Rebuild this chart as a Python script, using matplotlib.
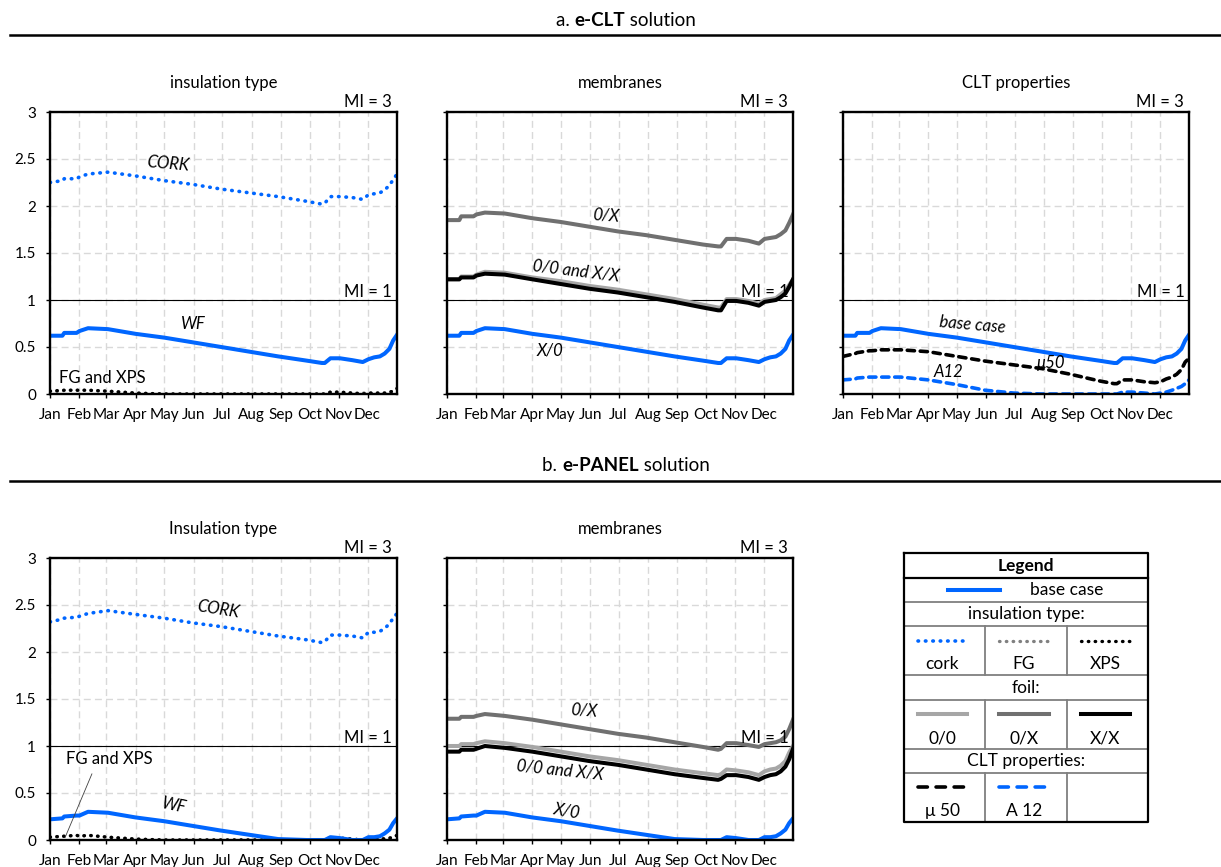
import matplotlib
matplotlib.use('Agg')
import matplotlib.pyplot as plt

plt.rcParams['font.family'] = ['Lato', 'DejaVu Sans']

# ---- data -------------------------------------------------------------
months = ['Jan', 'Feb', 'Mar', 'Apr', 'May', 'Jun', 'Jul', 'Aug', 'Sep', 'Oct', 'Nov', 'Dec']
month_starts = [0, 31, 59, 90, 120, 151, 181, 212, 243, 273, 304, 334]

days = [0, 13, 15, 28, 31, 40, 61, 90, 120, 150, 180, 210, 240, 270,
        286, 289, 295, 305, 318, 329, 335, 341, 347, 352, 357, 361, 365]

# a. e-CLT solution
base_a = [0.62, 0.62, 0.65, 0.65, 0.67, 0.70, 0.69, 0.64, 0.60, 0.55, 0.50, 0.45, 0.40, 0.355,
          0.33, 0.33, 0.38, 0.38, 0.36, 0.34, 0.37, 0.39, 0.40, 0.43, 0.48, 0.57, 0.63]
cork_a = [2.25, 2.27, 2.29, 2.29, 2.31, 2.34, 2.36, 2.32, 2.27, 2.23, 2.18, 2.14, 2.10, 2.05,
          2.02, 2.03, 2.10, 2.10, 2.09, 2.07, 2.12, 2.13, 2.14, 2.17, 2.22, 2.28, 2.34]
fg_a = [0.03, 0.03, 0.04, 0.04, 0.04, 0.04, 0.03, 0.01, 0, 0, 0, 0, 0, 0,
        0, 0, 0.02, 0.02, 0.01, 0.01, 0.01, 0.01, 0.01, 0.01, 0.02, 0.03, 0.05]
xps_a = [0.03, 0.04, 0.04, 0.04, 0.04, 0.04, 0.03, 0.01, 0, 0, 0, 0, 0, 0,
         0, 0, 0.02, 0.02, 0.01, 0.0, 0.01, 0.01, 0.01, 0.01, 0.02, 0.03, 0.06]
ox_a = [1.85, 1.85, 1.89, 1.89, 1.91, 1.93, 1.92, 1.87, 1.83, 1.78, 1.73, 1.69, 1.64, 1.59,
        1.57, 1.57, 1.65, 1.65, 1.63, 1.60, 1.65, 1.66, 1.67, 1.70, 1.74, 1.82, 1.91]
oo_a = [1.22, 1.22, 1.25, 1.25, 1.27, 1.30, 1.29, 1.24, 1.20, 1.15, 1.11, 1.06, 1.01, 0.95,
        0.92, 0.92, 1.01, 1.01, 0.99, 0.96, 1.00, 1.01, 1.02, 1.06, 1.10, 1.16, 1.22]
xx_a = [1.22, 1.22, 1.24, 1.24, 1.26, 1.28, 1.27, 1.22, 1.17, 1.12, 1.08, 1.03, 0.98, 0.92,
        0.89, 0.89, 0.99, 0.99, 0.97, 0.94, 0.98, 0.99, 1.00, 1.03, 1.07, 1.14, 1.22]
mu50_a = [0.40, 0.43, 0.44, 0.46, 0.46, 0.47, 0.47, 0.45, 0.40, 0.35, 0.31, 0.27, 0.21, 0.14,
          0.11, 0.11, 0.15, 0.15, 0.13, 0.12, 0.13, 0.16, 0.18, 0.21, 0.26, 0.34, 0.38]
a12_a = [0.15, 0.16, 0.17, 0.18, 0.18, 0.18, 0.18, 0.15, 0.10, 0.04, 0.01, 0, 0, 0,
         0, 0, 0.02, 0.02, 0.01, 0, 0.01, 0.02, 0.04, 0.06, 0.08, 0.11, 0.15]

# b. e-PANEL solution
base_b = [0.22, 0.23, 0.25, 0.26, 0.26, 0.30, 0.29, 0.24, 0.20, 0.15, 0.10, 0.055, 0.01, 0.0,
          0.0, 0.0, 0.03, 0.02, 0.0, 0.0, 0.03, 0.03, 0.04, 0.07, 0.11, 0.18, 0.23]
cork_b = [2.32, 2.35, 2.36, 2.37, 2.38, 2.41, 2.44, 2.40, 2.36, 2.31, 2.27, 2.22, 2.17, 2.13,
          2.10, 2.11, 2.18, 2.18, 2.17, 2.15, 2.21, 2.21, 2.22, 2.25, 2.30, 2.36, 2.41]
fg_b = [0.03, 0.04, 0.04, 0.05, 0.04, 0.05, 0.03, 0.01, 0, 0, 0, 0, 0, 0,
        0, 0, 0.03, 0.02, 0.01, 0.0, 0.02, 0.02, 0.02, 0.01, 0.02, 0.03, 0.05]
xps_b = [0.03, 0.04, 0.04, 0.05, 0.04, 0.05, 0.03, 0.01, 0, 0, 0, 0, 0, 0,
         0, 0, 0.03, 0.02, 0.01, 0.0, 0.02, 0.02, 0.02, 0.01, 0.02, 0.03, 0.05]
ox_b = [1.29, 1.29, 1.31, 1.31, 1.32, 1.34, 1.32, 1.28, 1.23, 1.18, 1.13, 1.09, 1.04, 0.99,
        0.96, 0.97, 1.03, 1.03, 1.01, 0.99, 1.02, 1.03, 1.04, 1.06, 1.10, 1.18, 1.28]
oo_b = [1.00, 1.00, 1.02, 1.02, 1.03, 1.05, 1.03, 0.99, 0.94, 0.89, 0.85, 0.80, 0.75, 0.71,
        0.69, 0.70, 0.75, 0.74, 0.72, 0.69, 0.73, 0.75, 0.76, 0.79, 0.84, 0.93, 1.00]
xx_b = [0.94, 0.94, 0.96, 0.96, 0.97, 1.00, 0.98, 0.94, 0.89, 0.84, 0.80, 0.75, 0.70, 0.66,
        0.64, 0.65, 0.69, 0.69, 0.67, 0.64, 0.67, 0.69, 0.70, 0.73, 0.78, 0.86, 0.97]

# ---- styles -----------------------------------------------------------
BLUE = '#0066ff'
LGRAY = '#a6a6a6'
DGRAY = '#707070'
DOT = (0, (0.15, 1.9))
DASH = (0, (2.0, 1.6))

styles = {
    'base': dict(color=BLUE, lw=2.9),
    'cork': dict(color=BLUE, lw=2.6, linestyle=DOT, dash_capstyle='round'),
    'fg': dict(color='#808080', lw=2.4, linestyle=DOT, dash_capstyle='round'),
    'xps': dict(color='black', lw=2.4, linestyle=DOT, dash_capstyle='round'),
    'oo': dict(color=LGRAY, lw=2.9),
    'ox': dict(color=DGRAY, lw=2.9),
    'xx': dict(color='black', lw=2.9),
    'mu50': dict(color='black', lw=2.6, linestyle=DASH, dash_capstyle='round'),
    'a12': dict(color=BLUE, lw=2.6, linestyle=DASH, dash_capstyle='round'),
}

W, H = 1221, 867
fig = plt.figure(figsize=(W / 100, H / 100), dpi=100)


def px_box(left, top, right, bottom):
    return [left / W, 1 - bottom / H, (right - left) / W, (bottom - top) / H]


def make_panel(box, title, ylabels):
    ax = fig.add_axes(px_box(*box))
    ax.set_xlim(0, 365)
    ax.set_ylim(0, 3)
    ax.set_xticks(month_starts)
    ax.set_xticklabels(months)
    ax.set_yticks([0, 0.5, 1, 1.5, 2, 2.5, 3])
    if ylabels:
        ax.set_yticklabels(['0', '0.5', '1', '1.5', '2', '2.5', '3'])
    else:
        ax.set_yticklabels([])
    ax.grid(True, color='#d9d9d9', linestyle=(0, (5, 3)), linewidth=1)
    ax.set_axisbelow(True)
    ax.tick_params(direction='out', length=3, width=1, labelsize=11)
    ax.tick_params(axis='x', pad=7)
    ax.tick_params(axis='y', pad=7)
    for s in ax.spines.values():
        s.set_linewidth(1.7)
    ax.axhline(1, color='black', lw=0.8)
    ax.text(0.985, 1.008, 'MI = 3', transform=ax.transAxes, ha='right', va='bottom', fontsize=12)
    ax.text(360, 1.005, 'MI = 1', ha='right', va='bottom', fontsize=12)
    ax.set_title(title, fontsize=12, pad=17)
    return ax


def header(y_px, pieces):
    r = fig.canvas.get_renderer()
    texts = []
    total = 0
    for s, weight in pieces:
        t = fig.text(0, 1 - y_px / H, s, fontsize=13.5, fontweight=weight, va='center')
        w = t.get_window_extent(r).width
        texts.append((t, w))
        total += w
    x = 626 - total / 2
    for t, w in texts:
        t.set_x(x / W)
        x += w
    fig.add_artist(plt.Line2D([10 / W, 1], [1 - (y_px + 15) / H] * 2, color='black', lw=1.8))


header(20, [('a. ', 'normal'), ('e-CLT', 'bold'), (' solution', 'normal')])
header(466, [('b. ', 'normal'), ('e-PANEL', 'bold'), (' solution', 'normal')])

lab = dict(fontsize=12, style='italic')

# --- top row
ax = make_panel((50, 112, 397, 394), 'insulation type', True)
ax.plot(days, fg_a, **styles['fg'])
ax.plot(days, xps_a, **styles['xps'])
ax.plot(days, cork_a, **styles['cork'])
ax.plot(days, base_a, **styles['base'])
ax.text(124, 2.45, 'CORK', rotation=-5, ha='center', va='center', **lab)
ax.text(151, 0.74, 'WF', ha='center', va='center', **lab)
ax.text(9, 0.17, 'FG and XPS', ha='left', va='center', fontsize=12)

ax = make_panel((447, 112, 793, 394), 'membranes', False)
ax.plot(days, ox_a, **styles['ox'])
ax.plot(days, oo_a, **styles['oo'])
ax.plot(days, xx_a, **styles['xx'])
ax.plot(days, base_a, **styles['base'])
ax.text(168, 1.90, '0/X', rotation=-4, ha='center', va='center', **lab)
ax.text(136, 1.31, '0/0 and X/X', rotation=-7, ha='center', va='center', **lab)
ax.text(109, 0.46, 'X/0', ha='center', va='center', **lab)

ax = make_panel((843, 112, 1189, 394), 'CLT properties', False)
ax.plot(days, a12_a, **styles['a12'])
ax.plot(days, mu50_a, **styles['mu50'])
ax.plot(days, base_a, **styles['base'])
ax.text(137, 0.74, 'base case', rotation=-5, ha='center', va='center', **lab)
ax.text(220, 0.33, 'μ50', ha='center', va='center', **lab)
ax.text(111, 0.23, 'A12', ha='center', va='center', **lab)

# --- bottom row
ax = make_panel((50, 558, 397, 840), 'Insulation type', True)
ax.plot(days, fg_b, **styles['fg'])
ax.plot(days, xps_b, **styles['xps'])
ax.plot(days, cork_b, **styles['cork'])
ax.plot(days, base_b, **styles['base'])
ax.text(177, 2.45, 'CORK', rotation=-9, ha='center', va='center', **lab)
ax.text(130, 0.36, 'WF', rotation=-12, ha='center', va='center', **lab)
ax.annotate('FG and XPS', xy=(16, 0.03), xytext=(17, 0.86), fontsize=12, ha='left', va='center',
            arrowprops=dict(arrowstyle='-', color='#404040', lw=0.6,
                            relpos=(0.33, 0.0), shrinkA=3, shrinkB=0))

ax = make_panel((447, 558, 793, 840), 'membranes', False)
ax.plot(days, ox_b, **styles['ox'])
ax.plot(days, oo_b, **styles['oo'])
ax.plot(days, xx_b, **styles['xx'])
ax.plot(days, base_b, **styles['base'])
ax.text(144, 1.38, '0/X', rotation=-4, ha='center', va='center', **lab)
ax.text(119, 0.74, '0/0 and X/X', rotation=-6, ha='center', va='center', **lab)
ax.text(126, 0.31, 'X/0', rotation=-10, ha='center', va='center', **lab)

# ---- legend table -----------------------------------------------------
L, R = 904, 1148
rows = [553, 578, 602, 626, 675, 700, 749, 773, 822]
cols = [904, 985, 1067, 1148]
lax = fig.add_axes(px_box(L, rows[0], R, rows[-1]))
lax.set_xlim(L, R)
lax.set_ylim(rows[-1], rows[0])
lax.axis('off')

for y in rows[2:-1]:
    lax.plot([L, R], [y, y], color='#7f7f7f', lw=1.3, clip_on=False)
for top, bot in [(rows[3], rows[4]), (rows[5], rows[6]), (rows[7], rows[8])]:
    for x in cols[1:3]:
        lax.plot([x, x], [top, bot], color='#7f7f7f', lw=1.3, clip_on=False)
lax.plot([L, R], [rows[1], rows[1]], color='black', lw=1.6, clip_on=False)
lax.plot([L, R, R, L, L], [rows[0], rows[0], rows[-1], rows[-1], rows[0]],
         color='black', lw=1.6, clip_on=False)

lt = dict(fontsize=12.5, ha='center', va='center')
lax.text((L + R) / 2, 566, 'Legend', fontweight='bold', **lt)
lax.plot([948, 1000], [590, 590], **styles['base'])
lax.text(1067, 590, 'base case', **lt)
lax.text((L + R) / 2, 614, 'insulation type:', **lt)
lax.text((L + R) / 2, 688, 'foil:', **lt)
lax.text((L + R) / 2, 761, 'CLT properties:', **lt)

legend_cells = [
    (641, 664, [('cork', 'cork'), ('fg', 'FG'), ('xps', 'XPS')]),
    (714, 738, [('oo', '0/0'), ('ox', '0/X'), ('xx', 'X/X')]),
    (787, 811, [('mu50', 'μ 50'), ('a12', 'A 12')]),
]
for ly, ty, cells in legend_cells:
    for i, (key, name) in enumerate(cells):
        x0, x1 = cols[i], cols[i + 1]
        style = dict(styles[key])
        if key in ('mu50', 'a12'):
            style['linestyle'] = (0, (2.6, 2.4))
        lax.plot([x0 + 14, x1 - 18], [ly, ly], **style)
        lax.text((x0 + x1) / 2 - 2, ty, name, **lt)

fig.savefig('out.png', dpi=100)
